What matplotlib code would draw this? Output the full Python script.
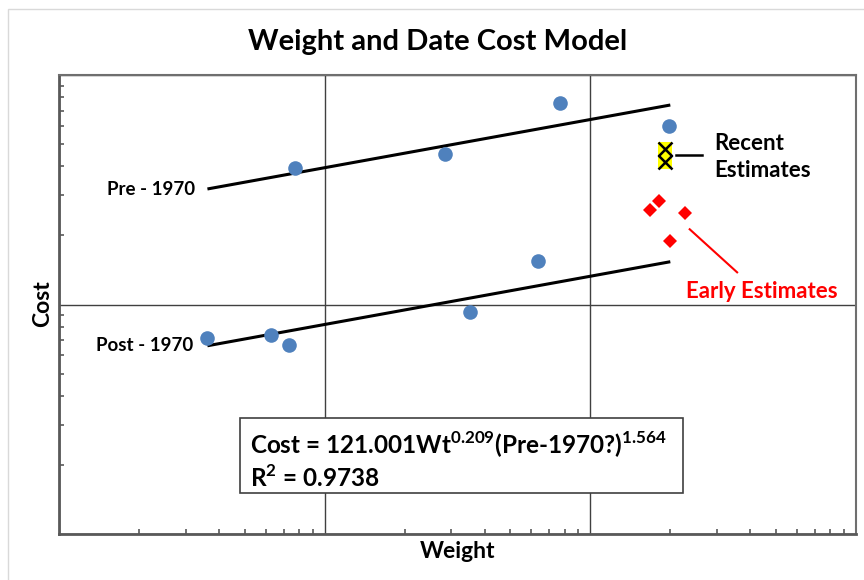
import matplotlib
matplotlib.use("Agg")
import matplotlib.pyplot as plt
from matplotlib.patches import Rectangle
from matplotlib.ticker import LogLocator, NullFormatter

plt.rcParams['font.family'] = ['Lato', 'DejaVu Sans']
plt.rcParams['font.weight'] = 'bold'
plt.rcParams['mathtext.fontset'] = 'custom'
plt.rcParams['mathtext.rm'] = 'Lato:bold'
plt.rcParams['mathtext.bf'] = 'Lato:bold'

# historical data points (weight, cost)
hist_wt = [7.74, 28.4, 76.6, 198.5, 63.3, 35.3, 3.62, 6.27, 7.37]
hist_cost = [395, 451, 757, 599, 154, 92.5, 71.2, 73.6, 66.6]

# recent estimates
recent_wt = [190.5, 190.5]
recent_cost = [475, 416]

# early estimates
early_wt = [167.2, 182.0, 226.6, 198.9]
early_cost = [258, 282.5, 250.4, 189.1]

# fitted model lines
pre_wt = [3.62, 200]
pre_cost = [318.7, 740]
post_wt = [3.62, 200]
post_cost = [66.1, 153.6]

# leader lines for callouts
recent_leader_wt = [210, 263.5]
recent_leader_cost = [449.4, 449.4]
early_leader_wt = [236.6, 356.9]
early_leader_cost = [212.7, 138.1]

blue = "#4F81BD"
grey = "#595959"

fig = plt.figure(figsize=(8.64, 5.8), dpi=100)
ax = fig.add_axes([59/864, 1-534/580, (856-59)/864, (534-75)/580])

# chart area border
fig.patches.append(Rectangle((8/864, -0.1), 1.2, 1.1-9/580, transform=fig.transFigure,
                             fill=False, edgecolor="#d9d9d9", linewidth=1))

ax.set_xscale('log')
ax.set_yscale('log')
ax.set_xlim(1, 1000)
ax.set_ylim(10, 1000)

ax.plot(pre_wt, pre_cost, color='black', lw=2.2, solid_capstyle='butt', zorder=3)
ax.plot(post_wt, post_cost, color='black', lw=2.2, solid_capstyle='butt', zorder=3)

ax.plot(hist_wt, hist_cost, 'o', color=blue, markersize=10.5, markeredgewidth=0, zorder=4)
ax.plot(recent_wt, recent_cost, 's', color='#FFFF00', markersize=10.5, markeredgewidth=0, zorder=4)
ax.plot(recent_wt, recent_cost, 'x', color='black', markersize=9.5, markeredgewidth=1.8, zorder=5)
ax.plot(early_wt, early_cost, 'D', color='red', markersize=7, markeredgewidth=0, zorder=4)

ax.plot(recent_leader_wt, recent_leader_cost, color='black', lw=1.8, zorder=3)
ax.plot(early_leader_wt, early_leader_cost, color='red', lw=1.5, zorder=3)

# labels
ax.text(3.25, 318.5, "Pre - 1970", ha='right', va='center', fontsize=13.5)
ax.text(3.19, 66.6, "Post - 1970", ha='right', va='center', fontsize=13.5)
ax.text(293, 439, "Recent\nEstimates", ha='left', va='center', fontsize=16, linespacing=1.38)
ax.text(229.9, 113.4, "Early Estimates", ha='left', va='center', fontsize=16, color='red')

# grid lines at decades
ax.grid(True, which='major', color='#404040', lw=1)
ax.set_axisbelow(True)

ax.xaxis.set_minor_locator(LogLocator(base=10, subs=range(2, 10)))
ax.yaxis.set_minor_locator(LogLocator(base=10, subs=range(2, 10)))
ax.xaxis.set_minor_formatter(NullFormatter())
ax.yaxis.set_minor_formatter(NullFormatter())
ax.tick_params(which='major', length=0, labelbottom=False, labelleft=False)
ax.tick_params(which='minor', direction='in', length=3.5, width=1.2, color=grey)

for side in ['left', 'bottom']:
    ax.spines[side].set_color(grey)
    ax.spines[side].set_linewidth(2)
for side in ['top', 'right']:
    ax.spines[side].set_color('#6f6f6f')
    ax.spines[side].set_linewidth(1.5)

ax.set_xlabel("Weight", fontsize=16.5, fontweight='bold', va='center')
ax.xaxis.set_label_coords(0.5, -(551-534)/459)
ax.set_ylabel("Cost", fontsize=16.5, fontweight='bold', va='center')
ax.yaxis.set_label_coords(-(59-43)/797, (534-304)/459)

fig.text(437.5/864, 1-42/580, "Weight and Date Cost Model", ha='center', va='center', fontsize=21)

# equation box
fig.patches.append(Rectangle((239.5/864, 1-493/580), (683-239.5)/864, (493-418)/580,
                             transform=fig.transFigure, facecolor='white', edgecolor='#404040', lw=1.2, zorder=6))
fig.text(249.5/864, 1-445/580, r"Cost = 121.001Wt$^{0.209}$(Pre-1970?)$^{1.564}$",
         ha='left', va='center', fontsize=17.5, zorder=7)
fig.text(249.5/864, 1-478/580, r"R$^{2}$ = 0.9738", ha='left', va='center', fontsize=17.5, zorder=7)

fig.savefig("out.png", dpi=100)
